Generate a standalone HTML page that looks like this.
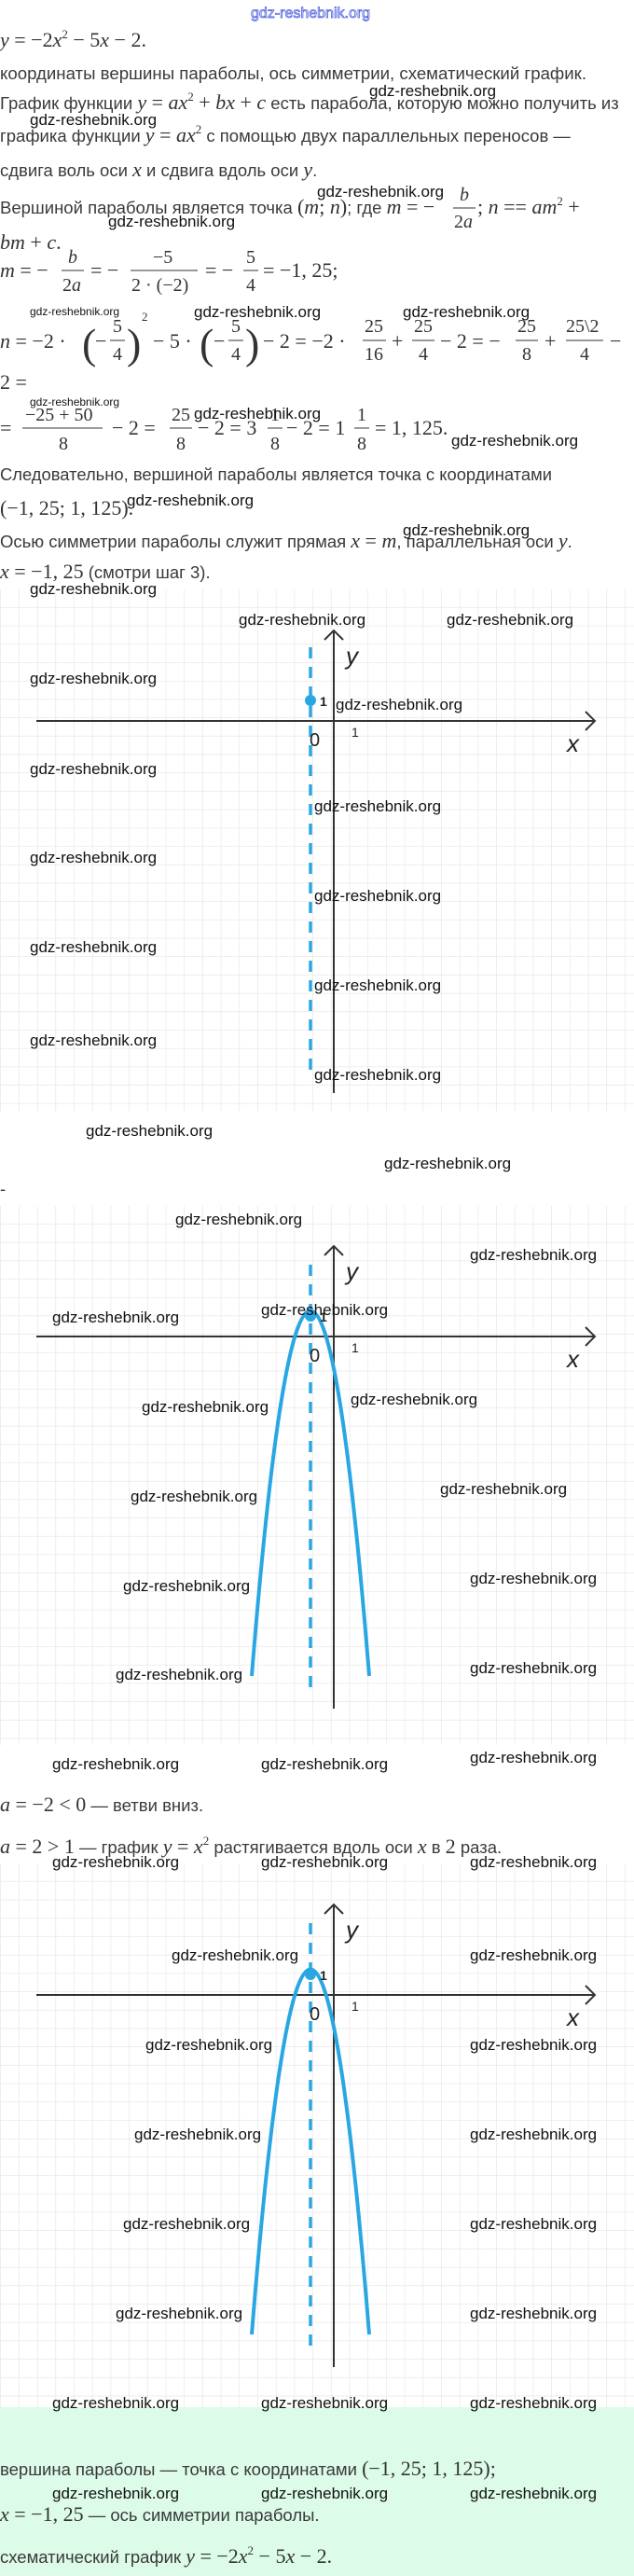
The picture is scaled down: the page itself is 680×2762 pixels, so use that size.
<!DOCTYPE html>
<html><head><meta charset="utf-8">
<style>
html,body{margin:0;padding:0;background:#fff;}
svg{display:block;}
.t{font-family:"Liberation Sans",sans-serif;font-size:18.5px;fill:#3a3a3a;}
.m{font-family:"Liberation Serif",serif;font-size:22px;fill:#333;}
.i{font-style:italic;}
.f{font-family:"Liberation Serif",serif;font-size:20px;fill:#333;}
.w{font-family:"Liberation Sans",sans-serif;font-size:17px;fill:#111;}
.ws{font-family:"Liberation Sans",sans-serif;font-size:12px;fill:#111;}
.lb{font-family:"Liberation Sans",sans-serif;fill:#222;}
.sup{font-size:13px;}
.big{font-size:46px;font-family:"Liberation Serif",serif;fill:#333;}
</style></head><body>
<svg width="680" height="2762" viewBox="0 0 680 2762" xmlns="http://www.w3.org/2000/svg">
<defs>
<pattern id="g" x="1" y="632" width="19.7" height="19.7" patternUnits="userSpaceOnUse">
<path d="M19.7 0V19.7M0 19.7H19.7" stroke="#e4e4e4" stroke-width="1.2" fill="none"/>
</pattern>
<pattern id="g2" x="1" y="1293" width="19.7" height="19.7" patternUnits="userSpaceOnUse">
<path d="M19.7 0V19.7M0 19.7H19.7" stroke="#e4e4e4" stroke-width="1.2" fill="none"/>
</pattern>
<pattern id="g3" x="1" y="1998" width="19.7" height="19.7" patternUnits="userSpaceOnUse">
<path d="M19.7 0V19.7M0 19.7H19.7" stroke="#e4e4e4" stroke-width="1.2" fill="none"/>
</pattern>
</defs>

<rect x="0" y="632" width="680" height="560" fill="url(#g)"/>
<rect x="0" y="1293" width="680" height="578" fill="url(#g2)"/>
<rect x="0" y="1998" width="680" height="583" fill="url(#g3)"/>
<rect x="0" y="2581" width="680" height="181" fill="#dcfbe9"/>

<text x="269" y="19" font-family="Liberation Sans,sans-serif" font-size="16" fill="#fff" stroke="#4a5ee0" stroke-width="0.8">gdz-reshebnik.org</text>

<text class="m" x="0" y="50"><tspan class="i">y</tspan> = −2<tspan class="i">x</tspan><tspan class="sup" dy="-9">2</tspan><tspan dy="9"> − 5</tspan><tspan class="i">x</tspan> − 2.</text>
<text class="t" x="0" y="85" textLength="629" lengthAdjust="spacingAndGlyphs">координаты вершины параболы, ось симметрии, схематический график.</text>
<text class="t" x="0" y="117">График функции <tspan class="m i">y</tspan><tspan class="m"> = </tspan><tspan class="m i">ax</tspan><tspan class="m sup" dy="-9">2</tspan><tspan class="m" dy="9"> + </tspan><tspan class="m i">bx</tspan><tspan class="m"> + </tspan><tspan class="m i">c</tspan> есть парабола, которую можно получить из</text>
<text class="t" x="0" y="152">графика функции <tspan class="m i">y</tspan><tspan class="m"> = </tspan><tspan class="m i">ax</tspan><tspan class="m sup" dy="-9">2</tspan><tspan dy="9"> с помощью двух параллельных переносов —</tspan></text>
<text class="t" x="0" y="189">сдвига воль оси <tspan class="m i">x</tspan> и сдвига вдоль оси <tspan class="m i">y</tspan>.</text>
<text class="t" x="0" y="229">Вершиной параболы является точка <tspan class="m">(</tspan><tspan class="m i">m</tspan><tspan class="m">;  </tspan><tspan class="m i">n</tspan><tspan class="m">)</tspan>; где <tspan class="m i">m</tspan><tspan class="m"> = −</tspan></text>
<text class="f i" x="493" y="215">b</text>
<line x1="486" y1="223" x2="510" y2="223" stroke="#333" stroke-width="1"/>
<text class="f" x="487" y="244">2<tspan class="i">a</tspan></text>
<text class="m" x="512" y="229">;   <tspan class="i">n</tspan> == <tspan class="i">am</tspan><tspan class="sup" dy="-9">2</tspan><tspan dy="9"> +</tspan></text>
<text class="m" x="0" y="267"><tspan class="i">bm</tspan> + <tspan class="i">c</tspan>.</text>

<text class="m" x="0" y="297"><tspan class="i">m</tspan> = −</text>
<text class="f i" x="73" y="282">b</text><line x1="66" y1="290" x2="90" y2="290" stroke="#333"/><text class="f" x="67" y="312">2<tspan class="i">a</tspan></text>
<text class="m" x="97" y="297">= −</text>
<text class="f" x="164" y="282">−5</text><line x1="140" y1="290" x2="212" y2="290" stroke="#333"/><text class="f" x="141" y="312">2 · (−2)</text>
<text class="m" x="220" y="297">= −</text>
<text class="f" x="264" y="282">5</text><line x1="261" y1="290" x2="277" y2="290" stroke="#333"/><text class="f" x="264" y="312">4</text>
<text class="m" x="282" y="297">= −1, 25;</text>

<text class="m" x="0" y="373"><tspan class="i">n</tspan> = −2 ·</text>
<text class="big" x="88" y="384">(</text>
<text class="m" x="102" y="373">−</text>
<text class="f" x="121" y="356">5</text><line x1="118" y1="365" x2="134" y2="365" stroke="#333"/><text class="f" x="121" y="386">4</text>
<text class="big" x="136" y="384">)</text>
<text class="m sup" x="152" y="344">2</text>
<text class="m" x="164" y="373">− 5 ·</text>
<text class="big" x="214" y="384">(</text>
<text class="m" x="229" y="373">−</text>
<text class="f" x="248" y="356">5</text><line x1="245" y1="365" x2="261" y2="365" stroke="#333"/><text class="f" x="248" y="386">4</text>
<text class="big" x="263" y="384">)</text>
<text class="m" x="282" y="373">− 2 = −2 ·</text>
<text class="f" x="391" y="356">25</text><line x1="389" y1="365" x2="414" y2="365" stroke="#333"/><text class="f" x="391" y="386">16</text>
<text class="m" x="420" y="373">+</text>
<text class="f" x="444" y="356">25</text><line x1="442" y1="365" x2="466" y2="365" stroke="#333"/><text class="f" x="449" y="386">4</text>
<text class="m" x="472" y="373">− 2 = −</text>
<text class="f" x="555" y="356">25</text><line x1="553" y1="365" x2="577" y2="365" stroke="#333"/><text class="f" x="560" y="386">8</text>
<text class="m" x="584" y="373">+</text>
<text class="f" x="607" y="356">25\2</text><line x1="607" y1="365" x2="647" y2="365" stroke="#333"/><text class="f" x="622" y="386">4</text>
<text class="m" x="654" y="373">−</text>
<text class="m" x="0" y="417">2 =</text>

<text class="m" x="0" y="466">=</text>
<text class="f" x="27" y="451">−25 + 50</text><line x1="24" y1="459" x2="110" y2="459" stroke="#333"/><text class="f" x="63" y="482">8</text>
<text class="m" x="120" y="466">− 2 =</text>
<text class="f" x="184" y="451">25</text><line x1="182" y1="459" x2="206" y2="459" stroke="#333"/><text class="f" x="189" y="482">8</text>
<text class="m" x="212" y="466">− 2 = 3</text>
<text class="f" x="290" y="451">1</text><line x1="287" y1="459" x2="303" y2="459" stroke="#333"/><text class="f" x="290" y="482">8</text>
<text class="m" x="307" y="466">− 2 = 1</text>
<text class="f" x="383" y="451">1</text><line x1="380" y1="459" x2="396" y2="459" stroke="#333"/><text class="f" x="383" y="482">8</text>
<text class="m" x="402" y="466">= 1, 125.</text>

<text class="t" x="0" y="515" textLength="592" lengthAdjust="spacingAndGlyphs">Следовательно, вершиной параболы является точка с координатами</text>
<text class="m" x="0" y="552">(−1, 25;  1, 125).</text>
<text class="t" x="0" y="587">Осью симметрии параболы служит прямая <tspan class="m i">x</tspan><tspan class="m"> = </tspan><tspan class="m i">m</tspan>, параллельная оси <tspan class="m i">y</tspan>.</text>
<text class="t" x="0" y="620"><tspan class="m i">x</tspan><tspan class="m"> = −1, 25</tspan> (смотри шаг 3).</text>

<g class="w">
<text x="396" y="103">gdz-reshebnik.org</text>
<text x="32" y="134">gdz-reshebnik.org</text>
<text x="340" y="211">gdz-reshebnik.org</text>
<text x="116" y="243">gdz-reshebnik.org</text>
<text x="208" y="340">gdz-reshebnik.org</text>
<text x="432" y="340">gdz-reshebnik.org</text>
<text x="208" y="449">gdz-reshebnik.org</text>
<text x="484" y="478">gdz-reshebnik.org</text>
<text x="136" y="542">gdz-reshebnik.org</text>
<text x="432" y="574">gdz-reshebnik.org</text>
</g>
<g class="ws">
<text x="32" y="338">gdz-reshebnik.org</text>
<text x="32" y="435">gdz-reshebnik.org</text>
</g>

<!-- GRAPH 1 -->
<g stroke="#333" stroke-width="2" fill="none">
<line x1="39" y1="773" x2="637" y2="773"/><path d="M628 763L638 773L628 783"/>
<line x1="358" y1="676" x2="358" y2="1172"/><path d="M348 686L358 676L368 686"/>
</g>
<line x1="333" y1="694" x2="333" y2="1149" stroke="#2aa7e2" stroke-width="3.5" stroke-dasharray="12,9"/>
<circle cx="333" cy="751" r="6" fill="#2aa7e2"/>
<text class="lb" x="371" y="712" font-size="26" font-style="italic">y</text>
<text class="lb" x="343" y="757" font-size="14" font-weight="bold">1</text>
<text class="lb" x="332" y="800" font-size="20">0</text>
<text class="lb" x="377" y="790" font-size="14">1</text>
<text class="lb" x="608" y="806" font-size="26" font-style="italic">x</text>
<g class="w">
<text x="32" y="637">gdz-reshebnik.org</text>
<text x="256" y="670">gdz-reshebnik.org</text>
<text x="479" y="670">gdz-reshebnik.org</text>
<text x="32" y="733">gdz-reshebnik.org</text>
<text x="360" y="761">gdz-reshebnik.org</text>
<text x="32" y="830">gdz-reshebnik.org</text>
<text x="337" y="870">gdz-reshebnik.org</text>
<text x="32" y="925">gdz-reshebnik.org</text>
<text x="337" y="966">gdz-reshebnik.org</text>
<text x="32" y="1021">gdz-reshebnik.org</text>
<text x="337" y="1062">gdz-reshebnik.org</text>
<text x="32" y="1121">gdz-reshebnik.org</text>
<text x="337" y="1158">gdz-reshebnik.org</text>
<text x="92" y="1218">gdz-reshebnik.org</text>
<text x="412" y="1253">gdz-reshebnik.org</text>
<text x="188" y="1313">gdz-reshebnik.org</text>
</g>
<text class="t" x="0" y="1281">-</text>

<!-- GRAPH 2 -->
<g stroke="#333" stroke-width="2" fill="none">
<line x1="39" y1="1433" x2="637" y2="1433"/><path d="M628 1423L638 1433L628 1443"/>
<line x1="358" y1="1336" x2="358" y2="1832"/><path d="M348 1346L358 1336L368 1346"/>
</g>
<line x1="333" y1="1356" x2="333" y2="1811" stroke="#2aa7e2" stroke-width="3.5" stroke-dasharray="12,9"/>
<path d="M270 1797 Q333 1014 396 1797" stroke="#2aa7e2" stroke-width="4" fill="none"/>
<circle cx="333" cy="1411" r="6" fill="#2aa7e2"/>
<text class="lb" x="371" y="1372" font-size="26" font-style="italic">y</text>
<text class="lb" x="343" y="1417" font-size="14" font-weight="bold">1</text>
<text class="lb" x="332" y="1460" font-size="20">0</text>
<text class="lb" x="377" y="1450" font-size="14">1</text>
<text class="lb" x="608" y="1466" font-size="26" font-style="italic">x</text>
<g class="w">
<text x="504" y="1351">gdz-reshebnik.org</text>
<text x="56" y="1418">gdz-reshebnik.org</text>
<text x="280" y="1410">gdz-reshebnik.org</text>
<text x="376" y="1506">gdz-reshebnik.org</text>
<text x="152" y="1514">gdz-reshebnik.org</text>
<text x="472" y="1602">gdz-reshebnik.org</text>
<text x="140" y="1610">gdz-reshebnik.org</text>
<text x="504" y="1698">gdz-reshebnik.org</text>
<text x="132" y="1706">gdz-reshebnik.org</text>
<text x="504" y="1794">gdz-reshebnik.org</text>
<text x="124" y="1801">gdz-reshebnik.org</text>
<text x="56" y="1897">gdz-reshebnik.org</text>
<text x="280" y="1897">gdz-reshebnik.org</text>
<text x="504" y="1890">gdz-reshebnik.org</text>
</g>
<text class="t" x="0" y="1942"><tspan class="m i">a</tspan><tspan class="m"> = −2  &lt;  0</tspan> — ветви вниз.</text>
<text class="t" x="0" y="1987"><tspan class="m i">a</tspan><tspan class="m"> = 2  &gt;  1</tspan> — график <tspan class="m i">y</tspan><tspan class="m"> = </tspan><tspan class="m i">x</tspan><tspan class="m sup" dy="-9">2</tspan><tspan dy="9"> растягивается вдоль оси </tspan><tspan class="m i">x</tspan> в <tspan class="m">2</tspan> раза.</text>

<!-- GRAPH 3 -->
<g stroke="#333" stroke-width="2" fill="none">
<line x1="39" y1="2139" x2="637" y2="2139"/><path d="M628 2129L638 2139L628 2149"/>
<line x1="358" y1="2042" x2="358" y2="2538"/><path d="M348 2052L358 2042L368 2052"/>
</g>
<line x1="333" y1="2062" x2="333" y2="2515" stroke="#2aa7e2" stroke-width="3.5" stroke-dasharray="12,9"/>
<path d="M270 2503 Q333 1720 396 2503" stroke="#2aa7e2" stroke-width="4" fill="none"/>
<circle cx="333" cy="2117" r="6" fill="#2aa7e2"/>
<text class="lb" x="371" y="2078" font-size="26" font-style="italic">y</text>
<text class="lb" x="343" y="2123" font-size="14" font-weight="bold">1</text>
<text class="lb" x="332" y="2166" font-size="20">0</text>
<text class="lb" x="377" y="2156" font-size="14">1</text>
<text class="lb" x="608" y="2172" font-size="26" font-style="italic">x</text>
<g class="w">
<text x="56" y="2002">gdz-reshebnik.org</text>
<text x="280" y="2002">gdz-reshebnik.org</text>
<text x="504" y="2002">gdz-reshebnik.org</text>
<text x="184" y="2102">gdz-reshebnik.org</text>
<text x="504" y="2102">gdz-reshebnik.org</text>
<text x="156" y="2198">gdz-reshebnik.org</text>
<text x="504" y="2198">gdz-reshebnik.org</text>
<text x="144" y="2294">gdz-reshebnik.org</text>
<text x="504" y="2294">gdz-reshebnik.org</text>
<text x="132" y="2390">gdz-reshebnik.org</text>
<text x="504" y="2390">gdz-reshebnik.org</text>
<text x="124" y="2486">gdz-reshebnik.org</text>
<text x="504" y="2486">gdz-reshebnik.org</text>
<text x="56" y="2582">gdz-reshebnik.org</text>
<text x="280" y="2582">gdz-reshebnik.org</text>
<text x="504" y="2582">gdz-reshebnik.org</text>
<text x="56" y="2679">gdz-reshebnik.org</text>
<text x="280" y="2679">gdz-reshebnik.org</text>
<text x="504" y="2679">gdz-reshebnik.org</text>
</g>

<text class="t" x="0" y="2654">вершина параболы — точка с координатами <tspan class="m">(−1, 25;  1, 125);</tspan></text>
<text class="t" x="0" y="2703"><tspan class="m i">x</tspan><tspan class="m"> = −1, 25</tspan> — ось симметрии параболы.</text>
<text class="t" x="0" y="2748">схематический график <tspan class="m i">y</tspan><tspan class="m"> = −2</tspan><tspan class="m i">x</tspan><tspan class="m sup" dy="-9">2</tspan><tspan class="m" dy="9"> − 5</tspan><tspan class="m i">x</tspan><tspan class="m"> − 2.</tspan></text>
</svg>
</body></html>
